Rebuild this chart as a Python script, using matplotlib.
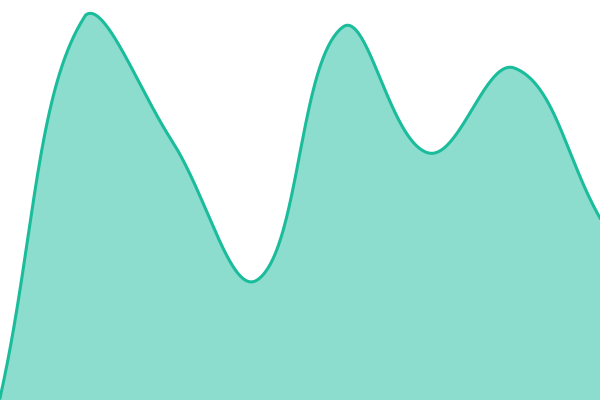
import numpy as np
import matplotlib
matplotlib.use("Agg")
import matplotlib.pyplot as plt

categories = list(range(8))
values = [2, 385, 260, 120, 373, 247, 332, 182]

LINE = "#1abc9c"


def chartjs_spline(pts, tension=0.4, bounds=None, n=80):
    """Chart.js-style bezier spline through pixel points."""
    P = [np.array(p, float) for p in pts]
    N = len(P)
    prevc, nextc = [], []
    for i in range(N):
        prev = P[i - 1] if i > 0 else P[i]
        cur = P[i]
        nxt = P[i + 1] if i < N - 1 else P[i]
        d01 = np.linalg.norm(cur - prev); d12 = np.linalg.norm(nxt - cur)
        tot = d01 + d12
        s01 = d01 / tot if tot else 0; s12 = d12 / tot if tot else 0
        fa, fb = tension * s01, tension * s12
        pc = cur - fa * (nxt - prev); nc = cur + fb * (nxt - prev)
        if bounds is not None:
            (x0, y0), (x1, y1) = bounds
            pc = np.clip(pc, [x0, y0], [x1, y1]); nc = np.clip(nc, [x0, y0], [x1, y1])
        prevc.append(pc); nextc.append(nc)
    out = [P[0]]
    t = np.linspace(0, 1, n)[1:, None]
    for i in range(N - 1):
        a, c1, c2, b = P[i], nextc[i], prevc[i + 1], P[i + 1]
        seg = (1 - t) ** 3 * a + 3 * (1 - t) ** 2 * t * c1 + 3 * (1 - t) * t ** 2 * c2 + t ** 3 * b
        out.extend(seg)
    return np.array(out)


fig = plt.figure(figsize=(6, 4), dpi=100)
ax = fig.add_axes([0, 0, 1, 1])
ax.set_xlim(0, 7)
ax.set_ylim(0, 400)
ax.axis("off")

disp = ax.transData.transform(np.column_stack([categories, values]))
bounds = ax.transData.transform([[0, 0], [7, 400]])
curve_disp = chartjs_spline(disp, 0.4, bounds)
curve = ax.transData.inverted().transform(curve_disp)
x, y = curve[:, 0], curve[:, 1]

ax.fill_between(x, 0, y, color=LINE, alpha=0.5, linewidth=0)
ax.plot(x, y, color=LINE, linewidth=2.2)
fig.savefig("out.png", dpi=100)
